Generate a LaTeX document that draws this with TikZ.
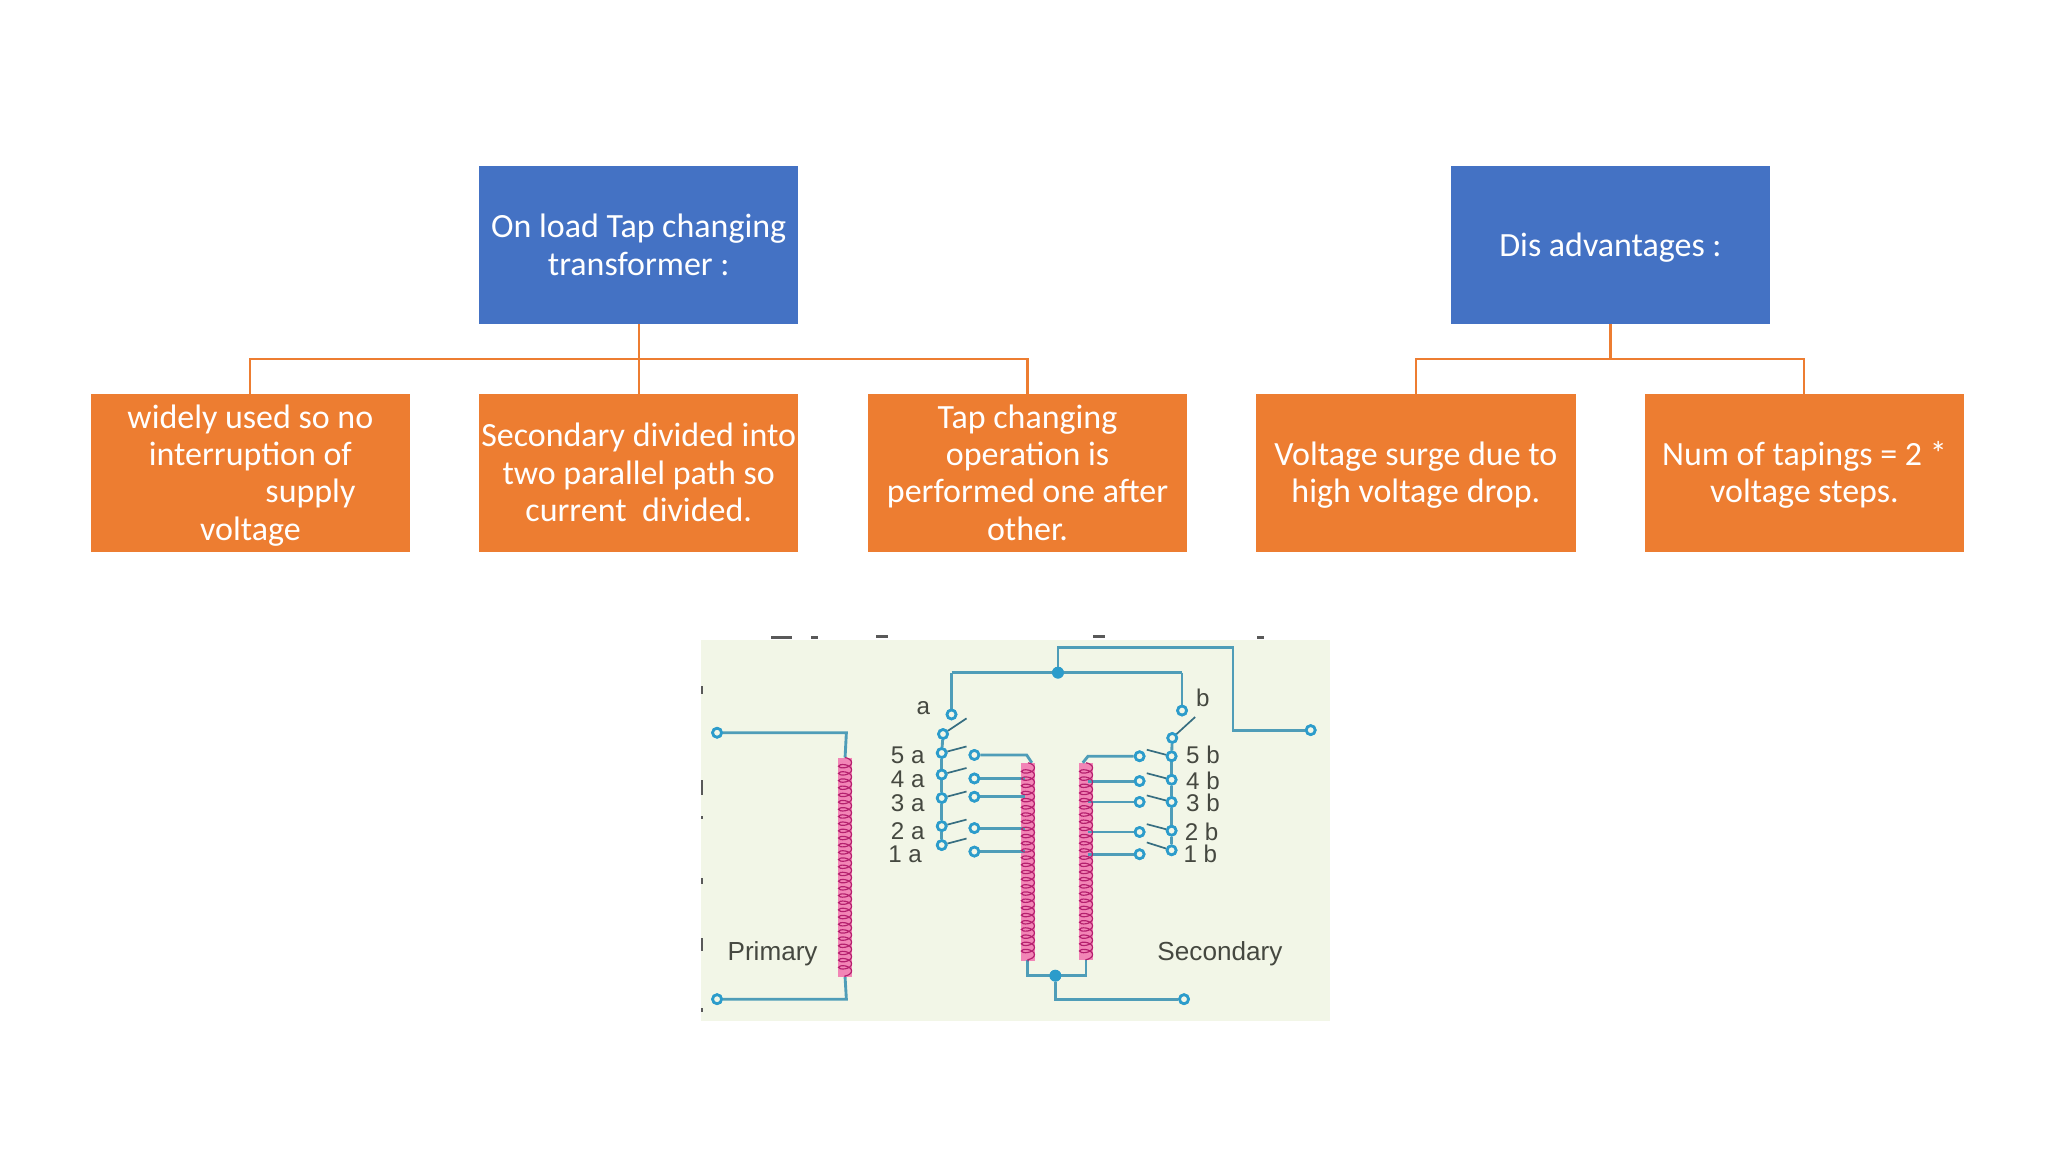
\documentclass[tikz,border=0pt]{standalone}
\usepackage{fontspec}
\setmainfont{Carlito}
\newfontfamily\labelfont{Liberation Sans}
\usetikzlibrary{decorations.pathmorphing}
\definecolor{bluebox}{HTML}{4472C4}
\definecolor{orangebox}{HTML}{ED7D31}
\definecolor{wire}{HTML}{4F9DB8}
\definecolor{termblue}{HTML}{2C9CCB}
\definecolor{photobg}{HTML}{F2F6E7}
\definecolor{coilpink}{HTML}{F272AE}
\definecolor{coildark}{HTML}{B5206E}
\definecolor{labelgrey}{HTML}{454840}
\newcommand{\lnstrut}{\rule[-7pt]{0pt}{27pt}}
\newcommand{\firststrut}{\rule[-7pt]{0pt}{31.5pt}}
\tikzset{
  x=1pt,y=-1pt,
  box/.style={minimum width=244.5pt,minimum height=121pt,inner sep=0pt,align=center,text=white,font=\fontsize{26}{28.6}\selectfont},
  bluenode/.style={box,fill=bluebox},
  orangenode/.style={box,fill=orangebox},
  link/.style={draw=orangebox,line width=1.6pt},
  wireline/.style={draw=wire,line width=2.2pt},
  blade/.style={draw=wire!70!black,line width=1.3pt},
  terminal/.style={circle,draw=termblue,fill=photobg,line width=2pt,minimum size=7pt,inner sep=0pt},
  junction/.style={circle,fill=termblue,minimum size=9pt,inner sep=0pt},
  coilunder/.style={draw=coilpink,line width=11pt,opacity=.85},
  coilwire/.style={draw=coildark,line width=.9pt,decorate,decoration={coil,aspect=.5,segment length=5.5pt,amplitude=5pt}},
  tag/.style={font=\labelfont\fontsize{18.5}{20}\selectfont,text=labelgrey,inner sep=0pt},
  bigtag/.style={tag,font=\labelfont\fontsize{20}{22}\selectfont},
  speck/.style={fill=black!65},
}
\begin{document}
\begin{tikzpicture}
\useasboundingbox (0,0) rectangle (1568,882);
\fill[white] (0,0) rectangle (1568,882);
% boxes
\node[bluenode] (main) at (489,187.5) {\firststrut On load Tap changing\\\lnstrut transformer :};
\node[bluenode] (dis) at (1233,187.5) {\firststrut Dis advantages :};
\node[orangenode] (used) at (191.7,362) {\firststrut widely used so no\\\lnstrut interruption of\\\lnstrut\hspace*{92pt}supply\\\lnstrut voltage};
\node[orangenode] (sec) at (489,362) {\firststrut Secondary divided into\\\lnstrut two parallel path so\\\lnstrut current\ \ divided.};
\node[orangenode] (tap) at (786.7,362) {\firststrut Tap changing\\\lnstrut operation is\\\lnstrut performed one after\\\lnstrut other.};
\node[orangenode] (surge) at (1084,362) {\firststrut Voltage surge due to\\\lnstrut high voltage drop.};
\node[orangenode] (num) at (1381.5,362) {\firststrut Num of tapings = 2 *\\\lnstrut voltage steps.};
% connectors
\draw[link] (main.south) -- ([yshift=-27pt]main.south) -| (used.north);
\draw[link] (main.south) -- (sec.north);
\draw[link] (main.south) -- ([yshift=-27pt]main.south) -| (tap.north);
\draw[link] (dis.south) -- ([yshift=-27pt]dis.south) -| (surge.north);
\draw[link] (dis.south) -- ([yshift=-27pt]dis.south) -| (num.north);
% photo
\fill[photobg] (537,490) rectangle (1018,782);
% cropped remains at the photo's edges
\fill[speck] (590,487) rectangle (606,489);
\fill[speck] (621,487) rectangle (626,489);
\fill[speck] (671,486.5) rectangle (680,488.5);
\fill[speck] (837,486.5) rectangle (846,488.5);
\fill[speck] (962,487) rectangle (968,489);
\foreach \yy/\hh in {525/6,597/12,625/2,672/5,718/10,772/3}{
  \fill[speck] (537,\yy) rectangle (538.5,\yy+\hh);
}
% coils
\draw[coilunder] (647,580) -- (647,748);
\draw[coilunder] (787,584) -- (787,736);
\draw[coilunder] (831.5,584) -- (831.5,735);
% terminals and junctions
\node[terminal] (pt) at (549,561) {};
\node[terminal] (pb) at (549,765) {};
\node[terminal] (out) at (1003.5,559) {};
\node[terminal] (sb) at (906.5,765) {};
\node[junction] (jt) at (810,515) {};
\node[junction] (jb) at (808,747) {};
\coordinate (top) at (810,496);
\coordinate (ptc) at (648,561);
\coordinate (pbc) at (648,765);
\coordinate (ca1) at (647,580);
\coordinate (ca2) at (647,748);
\node[terminal] (a) at (728.5,547) {};
\node[terminal] (al) at (722,562) {};
\node[terminal] (b) at (905,544) {};
\node[terminal] (bl) at (897.5,565) {};
\coordinate (ablade) at (740,550);
\coordinate (bblade) at (915,549);
% a side taps: name/bus y/contact y
\foreach \n/\y/\c in {5/576.5/578,4/593/596,3/611/610,2/632.5/634,1/647/652}{
  \node[terminal] (A\n) at (721,\y) {};
  \node[terminal] (C\n) at (746,\c) {};
  \coordinate (BA\n) at (740,\y-5);
  \draw[blade] (A\n) -- (BA\n);
}
\foreach \n/\y/\c/\k in {5/579/579/574,4/597/598/592,3/614/614/609,2/636/637/631,1/651/654/645}{
  \node[terminal] (D\n) at (897,\y) {};
  \node[terminal] (E\n) at (872.5,\c) {};
  \coordinate (BB\n) at (878,\k);
  \draw[blade] (D\n) -- (BB\n);
}
% wires
\draw[wireline] (pt) -- (ptc) -- (ca1);
\draw[wireline] (ca2) -- (pbc) -- (pb);
\draw[wireline] (jt) -- (top) -- (944,496) -- (944,559) -- (out);
\draw[wireline] (728.5,515) -- (905,515);
\draw[wireline] (728.5,515) -- (a);
\draw[wireline] (905,515) -- (b);
\draw[wireline] (787,735) -- (787,747) -- (831.5,747) -- (831.5,735);
\draw[wireline] (jb) -- (808,765) -- (sb);
\draw[blade] (al) -- (ablade);
\draw[blade] (bl) -- (bblade);
\draw[wireline] (al) -- (A5);
\draw[wireline] (A5) -- (A4); \draw[wireline] (A4) -- (A3);
\draw[wireline] (A3) -- (A2); \draw[wireline] (A2) -- (A1);
\draw[wireline] (bl) -- (D5);
\draw[wireline] (D5) -- (D4); \draw[wireline] (D4) -- (D3);
\draw[wireline] (D3) -- (D2); \draw[wireline] (D2) -- (D1);
\draw[wireline] (C5) -- (786,578) -- (790,584);
\draw[wireline] (C4) -- (785,596);
\draw[wireline] (C3) -- (785,610);
\draw[wireline] (C2) -- (785,634);
\draw[wireline] (C1) -- (785,652);
\draw[wireline] (E5) -- (833,579) -- (829,584);
\draw[wireline] (E4) -- (833,598);
\draw[wireline] (E3) -- (833,614);
\draw[wireline] (E2) -- (833,637);
\draw[wireline] (E1) -- (833,654);
% coil windings
\draw[coilwire] (647,580) -- (647,748);
\draw[coilwire] (787,584) -- (787,736);
\draw[coilwire] (831.5,584) -- (831.5,735);
% redraw terminals above the wires
\foreach \p in {pt,pb,out,sb,a,al,b,bl,A5,A4,A3,A2,A1,C5,C4,C3,C2,C1,D5,D4,D3,D2,D1,E5,E4,E3,E2,E1}{
  \draw[draw=termblue,fill=photobg,line width=2pt] (\p) circle (3.4pt);
}
\fill[termblue] (jt) circle (4.5pt);
\fill[termblue] (jb) circle (4.5pt);
% labels
\node[tag] (la) at (707,542) {a};
\node[tag] (lb) at (921,534) {b};
\node[tag] (l5a) at (695,578) {5 a};
\node[tag] (l4a) at (695,597) {4 a};
\node[tag] (l3a) at (695,615) {3 a};
\node[tag] (l2a) at (695,636) {2 a};
\node[tag] (l1a) at (693,654) {1 a};
\node[tag] (l5b) at (921,578) {5 b};
\node[tag] (l4b) at (921,598) {4 b};
\node[tag] (l3b) at (921,615) {3 b};
\node[tag] (l2b) at (920,637) {2 b};
\node[tag] (l1b) at (919,654) {1 b};
\node[bigtag] (prim) at (591.5,730) {Primary};
\node[bigtag] (seco) at (934,730) {Secondary};
\end{tikzpicture}
\end{document}
